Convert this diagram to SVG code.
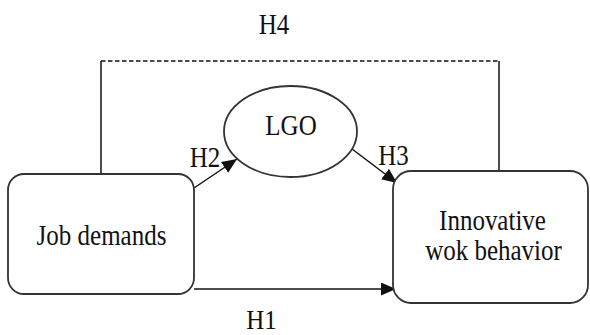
<svg xmlns="http://www.w3.org/2000/svg" width="590" height="335" viewBox="0 0 590 335">
<style>
.box{fill:#fff;stroke:#333;stroke-width:1.8}
.ln{fill:none;stroke:#111;stroke-width:1.5}
.dash{fill:none;stroke:#111;stroke-width:1.5;stroke-dasharray:4.5,2.5}
</style>
<defs>
<marker id="ah" markerUnits="userSpaceOnUse" markerWidth="16" markerHeight="14" refX="15" refY="6.5" orient="auto">
<path d="M0,0 L15,6.5 L0,13 z" fill="#111"/>
</marker>
</defs>
<rect width="590" height="335" fill="#fff"/>
<g id="connectors">
<path class="dash" d="M101,61 H499"/>
<path class="ln" d="M101,174 V61"/>
<path class="ln" d="M499,171 V61"/>
<path class="ln" d="M194,188 L237,159" marker-end="url(#ah)"/>
<path class="ln" d="M352,149 L397,183" marker-end="url(#ah)"/>
<path class="ln" d="M194,289 H396" marker-end="url(#ah)"/>
<g font-family="Liberation Serif" font-size="25" fill="#111" text-anchor="middle">
<g transform="translate(274,34) scale(1,1.17)"><text x="0" y="0">H4</text></g>
<g transform="translate(205,167) scale(1,1.17)"><text x="0" y="0">H2</text></g>
<g transform="translate(393.5,165) scale(1,1.17)"><text x="0" y="0">H3</text></g>
<g transform="translate(261.5,328.5) scale(1,1.1)"><text x="0" y="0">H1</text></g>
</g>
</g>
<g id="job-demands">
<rect class="box" x="8" y="174" width="186" height="120" rx="16"/>
<g transform="translate(101.5,245) scale(1,1.17)"><text x="0" y="0" font-family="Liberation Serif" font-size="25" fill="#111" text-anchor="middle">Job demands</text></g>
</g>
<g id="lgo">
<ellipse class="box" cx="290.5" cy="131.5" rx="66.5" ry="45.5"/>
<g transform="translate(291,135) scale(1,1.17)"><text x="0" y="0" font-family="Liberation Serif" font-size="25" fill="#111" text-anchor="middle">LGO</text></g>
</g>
<g id="innovative">
<rect class="box" x="393" y="171" width="195" height="132" rx="18"/>
<g font-family="Liberation Serif" font-size="25" fill="#111" text-anchor="middle">
<g transform="translate(492.5,230) scale(1,1.17)"><text x="0" y="0">Innovative</text></g>
<g transform="translate(493.5,260) scale(1,1.17)"><text x="0" y="0">wok behavior</text></g>
</g>
</g>
</svg>
